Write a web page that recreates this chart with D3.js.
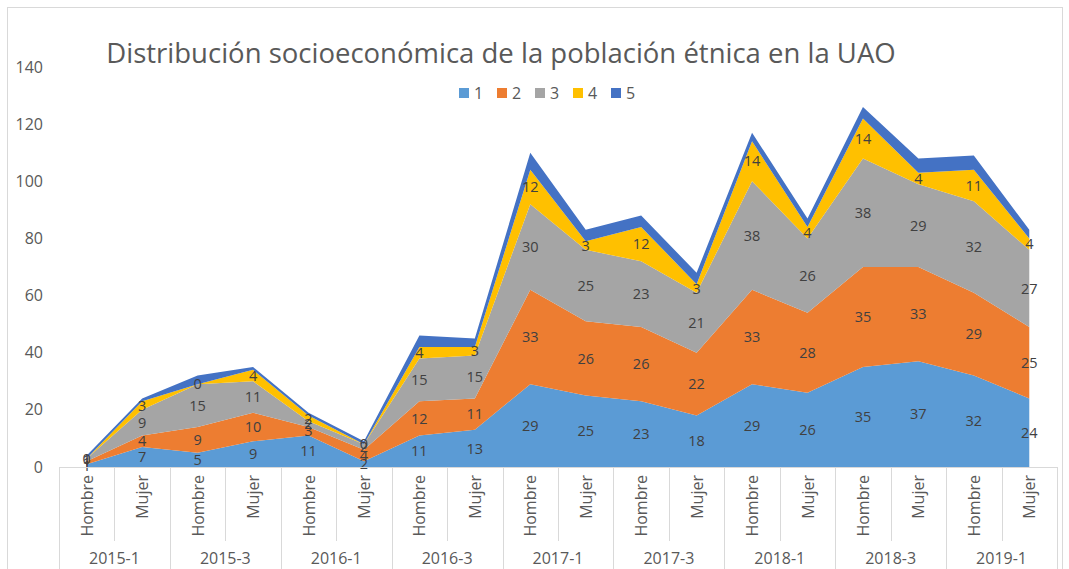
<!DOCTYPE html>
<html lang="es">
<head>
<meta charset="UTF-8">
<title>Distribución socioeconómica de la población étnica en la UAO</title>
<style>
    body { margin: 0; background: #fff; }
    text { font-family: "Open Sans", sans-serif; }
</style>
</head>
<body>
<div id="chart"></div>
<script src="https://d3js.org/d3.v7.min.js"></script>
<script>
    // periods and sex sub-categories
    var periods = ["2015-1", "2015-3", "2016-1", "2016-3", "2017-1", "2017-3", "2018-1", "2018-3", "2019-1"];
    var sexes = ["Hombre", "Mujer"];

    // socioeconomic level (estrato) counts per category, Hombre/Mujer alternating
    var estrato1 = [1, 7, 5, 9, 11, 2, 11, 13, 29, 25, 23, 18, 29, 26, 35, 37, 32, 24];
    var estrato2 = [1, 4, 9, 10, 3, 4, 12, 11, 33, 26, 26, 22, 33, 28, 35, 33, 29, 25];
    var estrato3 = [1, 9, 15, 11, 2, 2, 15, 15, 30, 25, 23, 21, 38, 26, 38, 29, 32, 27];
    var estrato4 = [0, 3, 0, 4, 2, 0, 4, 3, 12, 3, 12, 3, 14, 4, 14, 4, 11, 4];
    var estrato5 = [1, 1, 3, 1, 1, 1, 4, 3, 6, 4, 4, 4, 3, 3, 4, 5, 5, 3];

    var seriesNames = ["1", "2", "3", "4", "5"];
    var seriesColors = ["#5B9BD5", "#ED7D31", "#A5A5A5", "#FFC000", "#4472C4"];
    var yTicks = [0, 20, 40, 60, 80, 100, 120, 140];

    var width = 1069, height = 569;

    var categories = [];
    periods.forEach(function (p) {
        sexes.forEach(function (s) { categories.push(p + "|" + s); });
    });

    var allSeries = [estrato1, estrato2, estrato3, estrato4, estrato5];
    var table = categories.map(function (c, i) {
        var row = {cat: c};
        seriesNames.forEach(function (k, j) { row[k] = allSeries[j][i]; });
        return row;
    });

    var svg = d3.select("#chart").append("svg")
        .attr("width", width)
        .attr("height", height);

    // chart frame
    svg.append("rect")
        .attr("x", 7.5).attr("y", 7.5)
        .attr("width", 1055).attr("height", 600)
        .attr("fill", "#fff")
        .attr("stroke", "#d9d9d9");

    var x = d3.scaleBand()
        .domain(categories)
        .range([59, 1057]);

    var y = d3.scaleLinear()
        .domain([0, 140])
        .range([467, 67]);

    var cx = function (c) { return x(c) + x.bandwidth() / 2; };

    var stacked = d3.stack().keys(seriesNames)(table);

    var area = d3.area()
        .x(function (d) { return cx(d.data.cat); })
        .y0(function (d) { return y(d[0]); })
        .y1(function (d) { return y(d[1]); });

    svg.append("g")
        .selectAll("path")
        .data(stacked)
        .enter().append("path")
        .attr("d", area)
        .attr("fill", function (d, i) { return seriesColors[i]; });

    // data labels (series 1-4)
    var labels = svg.append("g");
    stacked.slice(0, 4).forEach(function (s) {
        labels.selectAll(null)
            .data(s)
            .enter().append("text")
            .attr("x", function (d) { return cx(d.data.cat); })
            .attr("y", function (d) { return y((d[0] + d[1]) / 2); })
            .attr("dy", "0.35em")
            .attr("text-anchor", "middle")
            .attr("font-size", "14.5px")
            .attr("fill", "#404040")
            .text(function (d) { return d[1] - d[0]; });
    });

    // y axis
    var yAxis = svg.append("g")
        .attr("transform", "translate(43,0)")
        .call(d3.axisLeft(y).tickValues(yTicks).tickSize(0).tickPadding(0));
    yAxis.select(".domain").remove();
    yAxis.selectAll("text")
        .attr("font-size", "16px")
        .attr("font-family", "'Open Sans', sans-serif")
        .attr("fill", "#595959");

    // category axis (two levels)
    var axisG = svg.append("g").attr("stroke", "#d9d9d9").attr("stroke-width", 1);
    axisG.append("line")
        .attr("x1", 59).attr("x2", x.range()[1])
        .attr("y1", 467.5).attr("y2", 467.5);

    var bounds = categories.map(function (c) { return x(c); });
    bounds.push(x.range()[1]);
    axisG.selectAll(".sep")
        .data(bounds)
        .enter().append("line")
        .attr("x1", function (d) { return Math.round(d) + 0.5; })
        .attr("x2", function (d) { return Math.round(d) + 0.5; })
        .attr("y1", 467)
        .attr("y2", function (d, i) { return i % 2 === 0 ? height : 541; });

    svg.append("g")
        .selectAll("text")
        .data(categories)
        .enter().append("text")
        .attr("transform", function (c) {
            return "translate(" + (cx(c) + 6) + ",475) rotate(-90)";
        })
        .attr("text-anchor", "end")
        .attr("font-size", "16px")
        .attr("fill", "#595959")
        .text(function (c) { return c.split("|")[1]; });

    svg.append("g")
        .selectAll("text")
        .data(periods)
        .enter().append("text")
        .attr("x", function (p) { return x(p + "|Hombre") + x.bandwidth(); })
        .attr("y", 564)
        .attr("text-anchor", "middle")
        .attr("font-size", "16px")
        .attr("fill", "#595959")
        .text(function (p) { return p; });

    // title
    svg.append("text")
        .attr("x", 501)
        .attr("y", 63)
        .attr("text-anchor", "middle")
        .attr("font-size", "27.5px")
        .attr("fill", "#595959")
        .text("Distribución socioeconómica  de la población étnica en la UAO");

    // legend
    var legend = svg.append("g")
        .selectAll("g")
        .data(seriesNames)
        .enter().append("g")
        .attr("transform", function (d, i) { return "translate(" + (459 + i * 38) + ",88)"; });
    legend.append("rect")
        .attr("width", 10).attr("height", 10)
        .attr("fill", function (d, i) { return seriesColors[i]; });
    legend.append("text")
        .attr("x", 15).attr("y", 5)
        .attr("dy", "0.35em")
        .attr("font-size", "16px")
        .attr("fill", "#595959")
        .text(function (d) { return d; });
</script>
</body>
</html>
